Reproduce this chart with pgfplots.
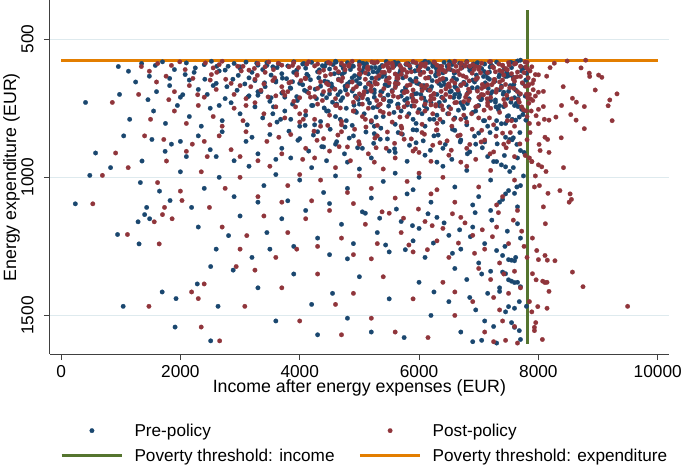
\documentclass[border=0pt]{standalone}
\usepackage{fontspec}
\setmainfont{Liberation Sans}
\usepackage{pgfplots}
\usepackage{pgfplotstable}
\pgfplotsset{compat=1.18}
\definecolor{snavy}{RGB}{26,71,111}
\definecolor{smaroon}{RGB}{144,53,59}
\definecolor{sgreen}{RGB}{85,117,47}
\definecolor{sorange}{RGB}{227,126,0}
\definecolor{sgrid}{RGB}{222,234,238}
\newcommand{\fs}{\fontsize{17.5}{21}\selectfont}
\newcommand{\fl}{\fontsize{18}{21}\selectfont}
\newcommand{\fg}{\fontsize{17.4}{20}\selectfont}
\pgfplotsset{
  dotleg/.style={legend image code/.code={\draw[mark repeat=2,mark phase=2,##1] plot coordinates {(0bp,0bp) (30.5bp,0bp) (61bp,0bp)};}},
  lineleg/.style={legend image code/.code={\draw[##1] (0bp,0bp) -- (61bp,0bp);}},
}
\pgfplotstableread{
pre post y
960 1346 599
1350 1620 588
1580 1850 595
1700 1990 582
1900 2080 610
2100 2420 586
2250 2550 604
2400 2650 592
2520 2700 580
2650 3020 615
2800 3050 598
2900 3300 588
3000 3240 606
3100 3480 583
3200 3420 620
3300 3700 594
3380 3560 610
3450 3900 585
3550 3820 600
3650 4120 590
3700 3950 625
3800 4250 597
3900 4150 582
3950 4400 612
4050 4300 590
4100 4600 605
4200 4480 584
4300 4650 618
4380 4750 596
4450 4700 587
4500 5000 608
4600 4880 580
4650 5100 622
4700 5000 594
4800 5250 585
4850 5150 610
4900 5400 598
5000 5300 583
5050 5500 615
5100 5450 592
5200 5700 603
5250 5550 587
5300 5800 620
5380 5680 595
5450 5900 581
5500 5750 610
5580 6100 598
5650 5950 586
5700 6200 619
5780 6050 591
5850 6350 604
5900 6250 583
5980 6400 612
6050 6300 594
6100 6600 580
6150 6500 607
6230 6700 590
6300 6650 616
6350 6850 598
6420 6800 584
6480 7000 609
6550 6900 592
6600 7150 621
6680 7050 587
6720 7250 603
6800 7200 581
6850 7350 613
6900 7400 596
6980 7500 585
7050 7450 606
7100 7600 590
7180 7650 619
7230 7700 598
7300 7780 583
7350 7950 628
7420 8001 629
7480 8139 634
7550 8196 603
7600 8267 587
7650 8483 579
7700 8793 576
7760 8715 604
7800 8853 623
7450 8860 635
7520 9009 630
7580 9064 638
3520 3950 630
4120 4520 627
4920 5330 632
5620 6020 628
6280 6740 633
6960 7420 630
2080 2520 628
5150 5600 626
1457 1806 719
980 1300 700
1250 1600 655
1600 1900 690
1820 2150 668
2000 2400 710
2150 2500 648
2300 2600 682
2450 2900 700
2600 2850 660
2750 3100 715
2880 3250 645
2950 3350 685
3080 3400 662
3150 3600 705
3250 3550 650
3350 3800 690
3420 3700 672
3520 4000 712
3600 3850 655
3700 4150 695
3780 4100 643
3850 4300 678
3950 4250 708
4000 4450 660
4120 4400 690
4180 4650 647
4280 4600 715
4350 4800 670
4420 4700 652
4500 5000 698
4580 4900 680
4650 5100 645
4720 5050 712
4800 5300 662
4880 5200 688
4950 5450 650
5020 5350 703
5100 5600 675
5170 5500 658
5250 5750 694
5320 5650 642
5400 5900 717
5470 5800 668
5550 6050 686
5620 5950 652
5700 6200 706
5770 6100 676
5850 6350 646
5920 6250 698
6000 6500 662
6080 6400 713
6150 6650 684
6220 6550 650
6300 6800 700
6370 6700 668
6450 6950 645
6520 6850 690
6600 7100 672
6670 7000 710
6750 7250 656
6820 7150 694
6900 7400 648
6970 7300 682
7050 7550 716
7120 7450 664
7200 7700 698
7270 7600 652
7350 7913 683
7420 8001 692
7500 8084 689
7560 8416 672
7620 8953 684
7680 9318 698
7740 7900 660
7780 7950 706
4080 4500 685
4760 5200 670
5380 5800 690
6050 6450 680
6700 7150 665
5800 6250 715
4450 4950 712
3300 3750 703
2550 3000 668
5000 5500 640
5950 6400 642
6600 7050 700
7150 7600 640
7600 7820 712
3880 4350 654
5250 5650 710
410 859 729
1150 1500 790
1550 1900 760
1750 2100 805
1950 2300 740
2150 2550 780
2350 2700 815
2500 2900 750
2700 3050 795
2850 3250 730
3000 3400 770
3120 3500 810
3250 3600 745
3380 3750 785
3500 3900 725
3620 4000 800
3750 4100 760
3880 4300 735
4000 4350 815
4100 4500 775
4220 4600 740
4350 4700 798
4450 4900 760
4550 4900 728
4680 5100 790
4780 5150 750
4880 5300 812
5000 5350 735
5080 5500 770
5200 5550 800
5300 5750 745
5400 5800 780
5500 5900 725
5600 6050 808
5700 6100 760
5800 6200 738
5900 6350 790
6000 6400 755
6100 6550 815
6200 6600 730
6300 6750 775
6400 6800 800
6500 6950 745
6600 7000 785
6700 7150 730
6800 7250 810
6900 7350 765
7000 7450 740
7100 7550 795
7200 7906 722
7280 9197 720
7350 9169 741
7420 8770 744
7480 8571 714
7540 8637 728
7600 8388 740
7660 8084 744
7720 8001 754
7500 7962 777
7560 8100 790
7620 8178 793
7680 8294 782
7740 8543 773
7790 8632 793
7300 9236 795
6950 7800 760
6250 6700 790
5650 6100 735
4950 5400 765
4250 4700 810
3550 4000 770
2650 3100 740
5250 5700 815
6050 6500 770
6750 7200 750
7150 7600 815
3850 4250 790
4600 5050 780
5950 6300 805
7450 7850 805
578 914 912
1523 1722 863
1744 2100 906
1357 1767 941
1050 1400 850
1850 2200 880
2100 2450 925
2300 2650 850
2500 2850 900
2700 3100 835
2900 3300 940
3100 3450 870
3300 3700 915
3500 3850 845
3700 4100 895
3850 4250 930
4000 4400 860
4150 4500 905
4300 4700 835
4450 4850 940
4600 5000 880
4750 5150 915
4900 5300 850
5050 5450 895
5200 5600 930
5350 5750 862
5500 5900 905
5650 6050 838
5800 6200 942
5950 6350 875
6100 6500 920
6250 6650 850
6400 6800 895
6550 6950 935
6700 7100 865
6850 7250 908
7000 7400 840
7150 7600 925
7300 8770 824
7380 8001 806
7450 8111 855
7520 8155 863
7580 8383 857
7640 8012 881
7700 8029 903
7760 8178 910
7250 7890 943
6600 7050 830
5600 6000 910
4400 4800 890
3200 3650 855
2000 2400 870
6950 7420 880
6300 6700 945
5250 5700 842
7650 7850 930
4800 5250 945
5900 6300 828
3600 4050 935
7100 7500 872
2600 3000 925
482 693 993
830 1125 965
1329 1618 1019
239 532 1096
1827 2027 1084
2188 2487 1109
1650 2000 1050
2000 2350 980
2400 2750 1040
2650 3000 1000
2900 3300 1070
3150 3500 960
3400 3800 1030
3600 4000 990
3800 4200 1085
4000 4350 1010
4200 4600 965
4400 4800 1055
4600 5000 995
4800 5200 1040
5000 5400 970
5200 5600 1075
5400 5800 1015
5600 6000 985
5800 6200 1060
6000 6400 1000
6200 6600 1090
6400 6800 960
6600 7000 1035
6800 7200 975
7000 7400 1070
7200 7600 1010
7300 7890 943
7380 8001 955
7450 8056 962
7520 8128 979
7580 8421 965
7640 7934 1035
7700 8017 1030
7600 8161 1058
7500 8361 1048
7450 8532 1060
7400 8554 1080
7350 8516 1090
7650 8084 1107
6900 7300 1100
5900 6300 1045
4500 4900 1095
3300 3700 1090
7750 7950 995
947 1113 1207
1307 1645 1241
1291 1562 1161
1401 1700 1135
1435 1734 1109
1485 1861 1150
2807 3113 1211
2508 2935 1323
2300 2700 1180
2600 3000 1260
3000 3400 1140
3200 3600 1290
3450 3800 1200
3700 4100 1150
3900 4300 1250
4100 4500 1120
4300 4700 1220
4500 4900 1280
4700 5100 1170
4900 5300 1240
5100 5500 1130
5300 5700 1200
5500 5900 1270
5700 6100 1160
5900 6300 1230
6100 6500 1290
6300 6700 1145
6500 6900 1210
6700 7100 1260
6900 7300 1180
7100 7500 1240
7300 7973 1265
7400 8111 1283
7500 8001 1298
7550 8150 1300
7600 8278 1302
7650 8117 1168
7700 7900 1220
7200 7650 1120
6000 6400 1185
4800 5200 1295
3500 3950 1260
1041 1473 1467
1695 2188 1415
1927 2300 1439
1911 2349 1542
2508 2658 1592
2283 2399 1386
2631 3080 1467
2885 3250 1336
3300 3700 1400
3600 4000 1520
3900 4300 1350
4200 4600 1460
4300 4700 1570
4550 4900 1420
4800 5200 1510
5000 5400 1360
5200 5600 1560
5500 5900 1440
5750 6150 1580
6000 6400 1380
6200 6600 1500
6500 6900 1450
6700 7100 1560
6800 7200 1370
6950 7350 1480
7050 7450 1590
7150 7500 1420
7250 7600 1540
7350 7700 1400
7400 8571 1343
7450 7901 1349
7500 7962 1371
7550 8073 1376
7600 8111 1381
7650 8145 1380
7700 8748 1396
7350 8178 1413
7500 7990 1468
7600 8145 1474
7800 9496 1467
7450 7890 1487
7550 7956 1526
7600 7934 1543
7680 7934 1555
7700 8067 1587
7300 7650 1600
6900 7250 1595
7100 7400 1520
4320 4720 640
4420 4820 598
4540 4950 672
4620 5050 735
4730 5130 606
4840 5260 655
4930 5350 760
5030 5420 620
5130 5550 690
5230 5650 748
5330 5720 612
5430 5850 665
5530 5950 725
5630 6030 590
5730 6150 640
5830 6230 770
5930 6330 615
6030 6450 700
6130 6530 752
6230 6620 598
6330 6750 660
6430 6830 722
6530 6920 610
6630 7050 678
6730 7150 740
6830 7230 600
6930 7350 655
7030 7420 718
7130 7550 625
7230 7650 690
7330 7750 755
7430 7820 608
7530 7830 668
7630 7840 732
7720 7860 615
4380 4800 700
4480 4900 760
4580 5000 625
4680 5080 690
4780 5200 795
4880 5280 640
4980 5400 718
5080 5480 602
5180 5600 660
5280 5680 782
5380 5780 635
5480 5880 702
5580 5980 765
5680 6080 620
5780 6180 685
5880 6280 742
5980 6380 598
6080 6480 668
6180 6580 790
6280 6680 628
6380 6780 710
6480 6880 770
6580 6980 640
6680 7080 702
6780 7180 785
6880 7280 618
6980 7380 675
7080 7480 795
7180 7580 645
7280 7680 728
7380 7780 670
7480 7810 780
7580 7830 640
7680 7850 700
7760 7880 760
3000 3420 600
3150 3580 640
3300 3720 690
2750 3150 612
3450 3880 595
3600 4020 650
3750 4180 710
3900 4330 620
4050 4480 665
4200 4620 740
3620 3980 603
3710 4090 641
3840 4170 676
3960 4380 722
4070 4510 588
4140 4430 633
4260 4590 681
4330 4760 611
4410 4680 749
4470 4880 655
4560 4830 592
4640 5070 701
4710 5010 627
4770 5190 684
4860 5140 600
4910 5320 739
4990 5270 662
5060 5490 587
5140 5410 718
5210 5630 641
5270 5560 603
5360 5770 690
5420 5700 627
5490 5920 742
5560 5840 596
5610 6040 668
5690 5990 612
5760 6190 721
5820 6110 589
5890 6300 653
5960 6250 697
6020 6440 618
6090 6380 741
6160 6590 584
6210 6510 672
6290 6700 606
6340 6630 729
6410 6840 651
6470 6770 597
6540 6980 688
6590 6890 623
6660 7090 757
6710 7010 601
6790 7220 665
6840 7140 716
6910 7340 590
6960 7270 646
7040 7470 703
7090 7390 617
7160 7590 678
7210 7510 594
7290 7720 745
7340 7640 636
7410 7800 699
7470 7760 621
7540 7810 584
7590 7840 664
7660 7870 716
7710 7890 600
7790 7920 648
3560 3930 745
3680 4060 790
3820 4240 833
3970 4290 866
4090 4470 812
4230 4640 847
4370 4660 889
4510 4920 826
4620 4990 871
4760 5110 818
4830 5260 858
4970 5280 893
5110 5470 836
5240 5590 877
5360 5710 822
5470 5870 861
5590 5940 897
5720 6090 844
5840 6230 884
5960 6290 829
6070 6470 868
6190 6540 902
6320 6690 847
6440 6850 881
6560 6890 826
6690 7040 872
6810 7190 915
6930 7290 851
7060 7460 893
7190 7530 838
7310 7690 879
7430 7780 921
7560 7810 864
7690 7860 838
2230 2610 620
2410 2760 645
2610 2960 598
2780 3180 672
2970 3290 631
3130 3470 709
3280 3640 587
3410 3820 658
1820 2210 642
2040 2290 701
1130 1480 616
1480 1760 634
5050 5380 1125
5340 5740 1148
5620 5990 1115
5890 6220 1175
6150 6560 1132
6420 6770 1165
6680 7060 1190
6940 7330 1128
7220 7580 1155
7480 7720 1195
5440 5830 1245
5770 6140 1262
6240 6660 1238
6560 6930 1275
6860 7230 1215
7440 7760 1250
7620 7810 1290
7000 7350 1310
7200 7600 1340
6600 7000 1330
6250 6600 1415
6850 7250 1435
7050 7420 1350
7680 7850 1450
4610 5210 583
4880 5560 596
5120 5790 589
5350 6020 601
5590 6260 584
5820 6500 593
6060 6710 587
6290 6950 599
6510 7180 582
6740 7400 594
6970 7620 588
7190 7790 601
4750 5380 620
4990 5640 633
5230 5870 618
5460 6110 641
5700 6330 627
5930 6580 615
6170 6790 638
6400 7030 622
6630 7260 646
6860 7480 611
7080 7700 635
4530 5150 662
4770 5410 679
5010 5650 661
5250 5900 684
5490 6130 667
5720 6370 689
5960 6600 659
6190 6830 681
6430 7060 664
6660 7290 692
6890 7520 676
7110 7730 658
4690 5290 722
4930 5570 706
5170 5810 731
5410 6040 714
5640 6280 737
5880 6520 709
6110 6750 726
6350 6980 742
6580 7200 711
6810 7440 733
7040 7660 719
}\hh
\begin{document}
\begin{tikzpicture}
\begin{axis}[
  scale only axis,
  width=625bp, height=357bp,
  xmin=-188, xmax=10188,
  ymin=360, ymax=1640,
  y dir=reverse,
  clip=false,
  axis x line*=bottom, axis y line*=left,
  x axis line style={-, black!75, line width=1bp},
  y axis line style={-, black!75, line width=1bp},
  xtick={0,2000,4000,6000,8000,10000},
  ytick={500,1000,1500},
  scaled ticks=false,
  /pgf/number format/1000 sep={},
  /pgf/number format/assume math mode=true,
  tick align=outside,
  major tick length=6bp,
  tick style={black!75, line width=1bp},
  ymajorgrids,
  grid style={sgrid, line width=0.9bp},
  tick label style={font=\fs},
  xticklabel style={anchor=base, yshift=-17.8bp},
  yticklabel style={xshift=-10.5bp, rotate=90, anchor=base},
  xlabel={Income after energy expenses (EUR)},
  ylabel={Energy expenditure (EUR)},
  xlabel style={font=\fl, at={(axis description cs:0.5,-0.1075)}, anchor=base},
  ylabel style={font=\fl, at={(axis description cs:-0.0544,0.5)}, anchor=base},
  legend columns=2,
  legend cell align=left,
  legend style={font=\fg, draw=none, fill=none, inner sep=0pt, outer sep=0pt,
    at={(axis description cs:0,0)}, anchor=north west, xshift=10.5bp, yshift=-71bp,
    nodes={inner sep=0pt, text height=12.2bp, text depth=0.3bp},
    row sep=12.5bp,
    /tikz/column 1/.style={column sep=11bp},
    /tikz/column 2/.style={column sep=24bp},
    /tikz/column 3/.style={column sep=11bp}},
]
\addplot[only marks, mark=*, mark size=2.3bp, mark options={fill=snavy, draw=snavy, line width=0.2bp}, dotleg]
  table[x=pre, y=y]{\hh};
\addlegendentry{Pre-policy}
\addplot[only marks, mark=*, mark size=2.3bp, mark options={fill=smaroon, draw=smaroon, line width=0.2bp}, dotleg]
  table[x=post, y=y]{\hh};
\addlegendentry{Post-policy}
\addplot[sgreen, line width=3bp, no marks, lineleg]
  coordinates {(7824,396) (7824,1603)};
\addlegendentry{Poverty threshold: income}
\addplot[sorange, line width=3bp, no marks, lineleg]
  coordinates {(0,576) (10000,576)};
\addlegendentry{Poverty threshold: expenditure}
\path (axis description cs:-0.0752,-0.3109) rectangle (axis description cs:1.0208,1);
\end{axis}
\end{tikzpicture}
\end{document}
